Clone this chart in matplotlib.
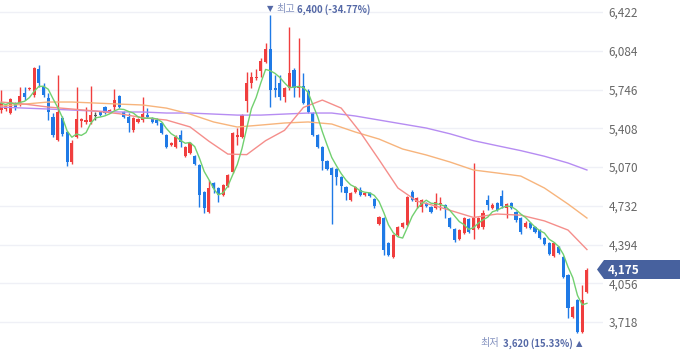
import matplotlib
matplotlib.use("Agg")
import matplotlib.pyplot as plt
from matplotlib.patches import Polygon
import numpy as np
import pandas as pd

plt.rcParams['font.family'] = ['Noto Sans CJK KR', 'DejaVu Sans']

# ---------------- data ----------------
opens = [5567, 5576, 5541, 5619, 5619, 5715, 5750, 5698, 5925, 5768,
         5672, 5506, 5306, 5497, 5375, 5114, 5332, 5471, 5463, 5463,
         5515, 5550, 5593, 5550, 5593, 5689, 5550, 5506, 5393, 5463,
         5480, 5523, 5497, 5480, 5454, 5349, 5262, 5244, 5349, 5166,
         5192, 5166, 5088, 4852, 4677, 4930, 4887, 4826, 4904, 5026,
         5332, 5332, 5646, 5803, 5846, 5907, 5986, 6099, 5759, 5803,
         5681, 5759, 5916, 5759, 5777, 5733, 5541, 5349, 5244, 5122,
         5061, 5052, 4983, 4895, 4782, 4852, 4869, 4826, 4843, 4791,
         4573, 4625, 4407, 4285, 4477, 4546, 4564, 4852, 4765, 4721,
         4756, 4721, 4712, 4747, 4739, 4625, 4529, 4442, 4494, 4616,
         4520, 4538, 4546, 4782, 4712, 4756, 4817, 4712, 4756, 4677,
         4625, 4546, 4581, 4546, 4520, 4451, 4407, 4294, 4372, 4285,
         4128, 3762, 3910, 3631, 3980]
closes = [5628, 5602, 5663, 5584, 5689, 5681, 5759, 5933, 5803, 5698,
          5550, 5349, 5550, 5358, 5114, 5279, 5489, 5489, 5480, 5523,
          5515, 5523, 5541, 5567, 5654, 5593, 5506, 5454, 5497, 5489,
          5532, 5506, 5463, 5454, 5367, 5244, 5279, 5332, 5288, 5244,
          5279, 5096, 4826, 4712, 4887, 4887, 4826, 4913, 5000, 5367,
          5349, 5523, 5803, 5855, 5855, 5995, 6099, 5742, 5742, 5681,
          5759, 5890, 5759, 5777, 5628, 5550, 5349, 5244, 5122, 5052,
          5000, 4983, 4904, 4843, 4843, 4895, 4826, 4843, 4817, 4730,
          4634, 4346, 4302, 4477, 4546, 4581, 4808, 4782, 4800, 4782,
          4730, 4677, 4765, 4756, 4712, 4546, 4433, 4520, 4625, 4503,
          4625, 4625, 4669, 4739, 4739, 4695, 4730, 4747, 4712, 4608,
          4503, 4581, 4538, 4503, 4451, 4398, 4311, 4407, 4320, 4110,
          3840, 3849, 3631, 3910, 4175]
highs = [5742, 5619, 5672, 5637, 5768, 5768, 5764, 5942, 5960, 5803,
         5715, 5541, 5872, 5515, 5384, 5306, 5768, 5497, 5593, 5777,
         5550, 5558, 5602, 5576, 5750, 5698, 5558, 5541, 5506, 5497,
         5681, 5584, 5506, 5497, 5463, 5358, 5288, 5349, 5393, 5253,
         5288, 5175, 5096, 4860, 4957, 4940, 4895, 4921, 5009, 5375,
         5410, 5532, 5899, 5899, 5925, 6021, 6151, 6400, 5872, 5872,
         5768, 6291, 5933, 6195, 5890, 5750, 5550, 5358, 5253, 5131,
         5070, 5061, 4990, 4904, 4852, 4904, 4895, 4852, 4852, 4800,
         4643, 4634, 4415, 4486, 4555, 4590, 4817, 4869, 4808, 4791,
         4765, 4730, 4843, 4808, 4747, 4634, 4538, 4529, 4634, 4625,
         5105, 4634, 4695, 4826, 4756, 4765, 4869, 4756, 4765, 4686,
         4634, 4599, 4590, 4555, 4529, 4460, 4415, 4415, 4381, 4294,
         4137, 3857, 3920, 4041, 4190]
lows = [5541, 5558, 5532, 5567, 5602, 5654, 5746, 5681, 5768, 5681,
        5480, 5332, 5297, 5340, 5079, 5096, 5323, 5419, 5445, 5445,
        5480, 5515, 5532, 5541, 5567, 5584, 5497, 5375, 5375, 5454,
        5463, 5500, 5454, 5436, 5358, 5236, 5253, 5236, 5244, 5157,
        5183, 5088, 4721, 4669, 4669, 4843, 4765, 4817, 4895, 5018,
        5262, 5323, 5550, 5759, 5829, 5855, 5977, 5593, 5681, 5654,
        5637, 5742, 5681, 5681, 5620, 5541, 5340, 5236, 5044, 5044,
        4573, 4913, 4852, 4782, 4773, 4843, 4817, 4817, 4808, 4712,
        4564, 4302, 4290, 4276, 4468, 4538, 4555, 4773, 4712, 4677,
        4721, 4669, 4704, 4695, 4625, 4538, 4420, 4433, 4486, 4494,
        4442, 4529, 4529, 4695, 4704, 4686, 4712, 4625, 4704, 4590,
        4486, 4538, 4529, 4494, 4442, 4390, 4302, 4285, 4311, 4100,
        3753, 3753, 3620, 3625, 3970]

ma20_idx = [0, 5, 10, 15, 20, 25, 30, 35, 40, 44, 48, 52, 56, 60, 64, 68,
            72, 76, 80, 84, 88, 92, 96, 100, 105, 110, 115, 120, 124]
ma20_val = [5637, 5619, 5593, 5576, 5558, 5535, 5500, 5480, 5420, 5295,
            5183, 5178, 5300, 5390, 5590, 5654, 5584, 5375, 5134, 4887,
            4773, 4730, 4680, 4630, 4660, 4650, 4600, 4520, 4350]
ma_idx = [0, 5, 10, 15, 20, 25, 30, 35, 40, 45, 50, 55, 60, 65, 70, 75,
          80, 85, 90, 95, 100, 105, 110, 115, 120, 124]
ma60_val = [5602, 5619, 5637, 5637, 5628, 5619, 5611, 5584, 5532, 5463,
            5419, 5436, 5454, 5463, 5445, 5375, 5314, 5227, 5175, 5114,
            5044, 5018, 4991, 4887, 4747, 4625]
ma120_val = [5593, 5584, 5576, 5567, 5558, 5550, 5550, 5541, 5541, 5532,
             5523, 5523, 5532, 5541, 5541, 5515, 5480, 5445, 5410, 5360,
             5300, 5256, 5213, 5164, 5105, 5044]

y_ticks = [3718, 4056, 4394, 4732, 5070, 5408, 5746, 6084, 6422]
max_label, min_label = "최고", "최저"

# ---------------- drawing ----------------
W, H = 680, 358
fig = plt.figure(figsize=(W / 100, H / 100), dpi=100)
fig.patch.set_facecolor("white")
ax = fig.add_axes([0, 0, 603 / W, 1])
ax.set_xlim(-0.21, 127.4)
ax.set_ylim(3404, 6527)
for s in ax.spines.values():
    s.set_visible(False)
ax.set_xticks([])
ax.yaxis.tick_right()
ax.set_yticks(y_ticks)
ax.set_yticklabels([f"{v:,}" for v in y_ticks])
ax.tick_params(axis="y", length=0, pad=4, labelsize=8.5, labelcolor="#666666")
ax.grid(axis="y", color="#eff0f6", lw=1)
ax.set_axisbelow(True)

o = np.array(opens, float)
c = np.array(closes, float)
hi = np.array(highs, float)
lo = np.array(lows, float)
x = np.arange(len(c))
RED, BLUE, GRAY = "#f03e3e", "#1f7ae6", "#555555"
cols = np.where(c > o, RED, np.where(c < o, BLUE, GRAY))
ax.vlines(x, lo, hi, colors=cols, lw=1, zorder=2)
bottom = np.minimum(o, c)
height = np.maximum(np.abs(c - o), 6)
ax.bar(x, height, bottom=bottom, width=0.66, color=cols, linewidth=0, zorder=3)

ma5 = pd.Series(c).rolling(5, min_periods=1).mean()
ax.plot(ma_idx, ma120_val, color="#b68cf2", lw=1, zorder=4)
ax.plot(ma_idx, ma60_val, color="#f7b47c", lw=1, zorder=4)
ax.plot(ma20_idx, ma20_val, color="#f58e8b", lw=1, zorder=4)
ax.plot(x, ma5, color="#72d070", lw=1, zorder=5)

# max / min annotations
last = closes[-1]
imax = int(np.argmax(hi))
imin = int(np.argmin(lo))
vmax, vmin = hi[imax], lo[imin]
pmax = (last - vmax) / vmax * 100
pmin = (last - vmin) / vmin * 100
NUMC, LABC = "#5468a6", "#8593c0"
FS = 6.9
ax.annotate("▼", xy=(imax, vmax), xytext=(0, 6), textcoords="offset pixels",
            ha="center", va="center", fontsize=6, color=NUMC,
            family=["DejaVu Sans"], annotation_clip=False)
ax.annotate(max_label, xy=(imax, vmax), xytext=(6, 5.5), textcoords="offset pixels",
            ha="left", va="center", fontsize=7.3, color=LABC, annotation_clip=False)
ax.annotate(f"{vmax:,.0f} ({pmax:.2f}%)", xy=(imax, vmax), xytext=(27, 5.5),
            textcoords="offset pixels", ha="left", va="center", fontsize=FS,
            fontweight="bold", color=NUMC, annotation_clip=False)

ax.annotate("▲", xy=(imin, vmin), xytext=(2, -10), textcoords="offset pixels",
            ha="center", va="center", fontsize=6, color=NUMC,
            family=["DejaVu Sans"], annotation_clip=False)
ax.annotate(f"{vmin:,.0f} ({pmin:.2f}%)", xy=(imin, vmin), xytext=(-4.5, -10),
            textcoords="offset pixels", ha="right", va="center", fontsize=FS,
            fontweight="bold", color=NUMC, annotation_clip=False)
ax.annotate(min_label, xy=(imin, vmin), xytext=(-78, -10), textcoords="offset pixels",
            ha="right", va="center", fontsize=7.3, color=LABC, annotation_clip=False)

# current price tag
yc = 269.5
pts = [(597, yc), (604, 260), (680, 260), (680, 279), (604, 279)]
fig.patches.append(Polygon([(px / W, 1 - py / H) for px, py in pts], closed=True,
                           transform=fig.transFigure, facecolor="#47619e",
                           edgecolor="none", zorder=10))
fig.text(608 / W, 1 - yc / H, f"{last:,}", color="white", fontsize=8.5,
         fontweight="bold", ha="left", va="center", zorder=11)

fig.savefig("out.png", dpi=100, facecolor="white")
